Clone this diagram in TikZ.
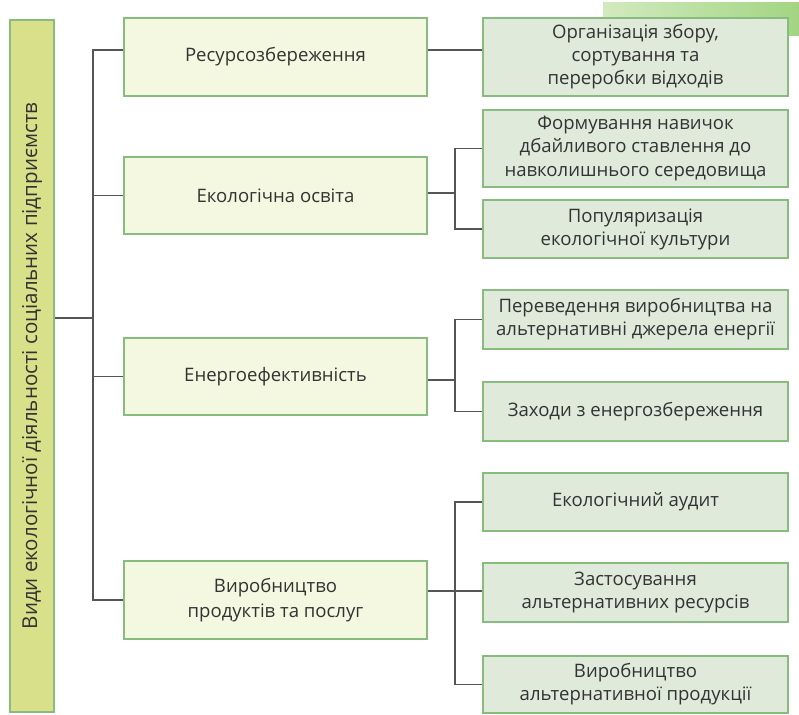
\documentclass[tikz,border=0pt]{standalone}
\usepackage{fontspec}
\usepackage{graphicx}
\setmainfont{Open Sans}
\definecolor{rootfill}{HTML}{D8E08A}
\definecolor{topfill}{HTML}{F4F8E1}
\definecolor{subfill}{HTML}{DFEADB}
\definecolor{boxline}{HTML}{88BB7E}
\definecolor{wire}{HTML}{555555}
\definecolor{txt}{HTML}{333333}
\definecolor{leafl}{HTML}{D2EABF}
\definecolor{leafr}{HTML}{A2D582}
\newcommand{\pw}{0.025cm}

\begin{document}
\begin{tikzpicture}[x=\pw, y=-\pw,
    box/.style={draw=boxline, line width=1.4pt, rectangle, align=center, inner sep=0pt, text=txt},
    rootbox/.style={box, fill=rootfill, minimum width=44*\pw, minimum height=692*\pw, font=\fontsize{14.6}{17}\selectfont},
    topbox/.style={box, fill=topfill, minimum width=303*\pw, font=\fontsize{13.2}{17.8}\selectfont},
    subbox/.style={box, fill=subfill, minimum width=305*\pw, font=\fontsize{13.2}{16.4}\selectfont},
    wire/.style={draw=wire, line width=1pt}]
    \useasboundingbox (0,0) rectangle (799,714);

    % corner decoration
    \shade[left color=leafl, right color=leafr] (603,3) rectangle (799,36);

    % Root
    \node[rootbox] (root) at (32,366) {\rotatebox{90}{Види екологічної діяльності соціальних підприємств}};

    % First level
    \node[topbox, minimum height=78*\pw] (res) at (275.5,57) {Ресурсозбереження};
    \node[topbox, minimum height=77*\pw] (osv) at (275.5,195.5) {Екологічна освіта};
    \node[topbox, minimum height=77*\pw] (ener) at (275.5,376.5) {Енергоефективність};
    \node[topbox, minimum height=78*\pw] (vyr) at (275.5,600) {Виробництво\\продуктів та послуг};

    % Second level
    \node[subbox, minimum height=78*\pw] (zbir) at (635.5,57) {Організація збору,\\сортування та\\переробки відходів};
    \node[subbox, minimum height=77*\pw] (navy) at (635.5,148.5) {Формування навичок\\дбайливого ставлення до\\навколишнього середовища};
    \node[subbox, minimum height=58*\pw] (popu) at (635.5,229) {Популяризація\\екологічної культури};
    \node[subbox, minimum height=59*\pw] (alte) at (635.5,319.5) {Переведення виробництва на\\альтернативні джерела енергії};
    \node[subbox, minimum height=59*\pw] (zakh) at (635.5,411.5) {Заходи з енергозбереження};
    \node[subbox, minimum height=58*\pw] (audy) at (635.5,502) {Екологічний аудит};
    \node[subbox, minimum height=59*\pw] (zast) at (635.5,592.5) {Застосування\\альтернативних ресурсів};
    \node[subbox, minimum height=57*\pw] (prod) at (635.5,684.5) {Виробництво\\альтернативної продукції};

    % Connectors
    \coordinate (hub) at (93,318);
    \coordinate (top) at (93,50);
    \coordinate (bus2) at (455,193);
    \coordinate (bus3) at (455,380);
    \coordinate (bus4) at (455,591);

    \draw[wire] (root.east |- hub) -- (hub);
    \draw[wire] (res.west |- top) -- (top) |- (vyr.west);
    \draw[wire] (hub |- osv.west) -- (osv.west);
    \draw[wire] (hub |- ener.west) -- (ener.west);
    \draw[wire] (res.east |- top) -- (zbir.west |- top);

    \draw[wire] (osv.east |- bus2) -- (bus2);
    \draw[wire] (navy.west) -| (bus2) |- (popu.west);
    \draw[wire] (ener.east |- bus3) -- (bus3);
    \draw[wire] (alte.west) -| (bus3) |- (zakh.west);
    \draw[wire] (vyr.east |- bus4) -- (bus4);
    \draw[wire] (audy.west) -| (bus4) |- (prod.west);
    \draw[wire] (bus4) -- (zast.west |- bus4);

\end{tikzpicture}
\end{document}
